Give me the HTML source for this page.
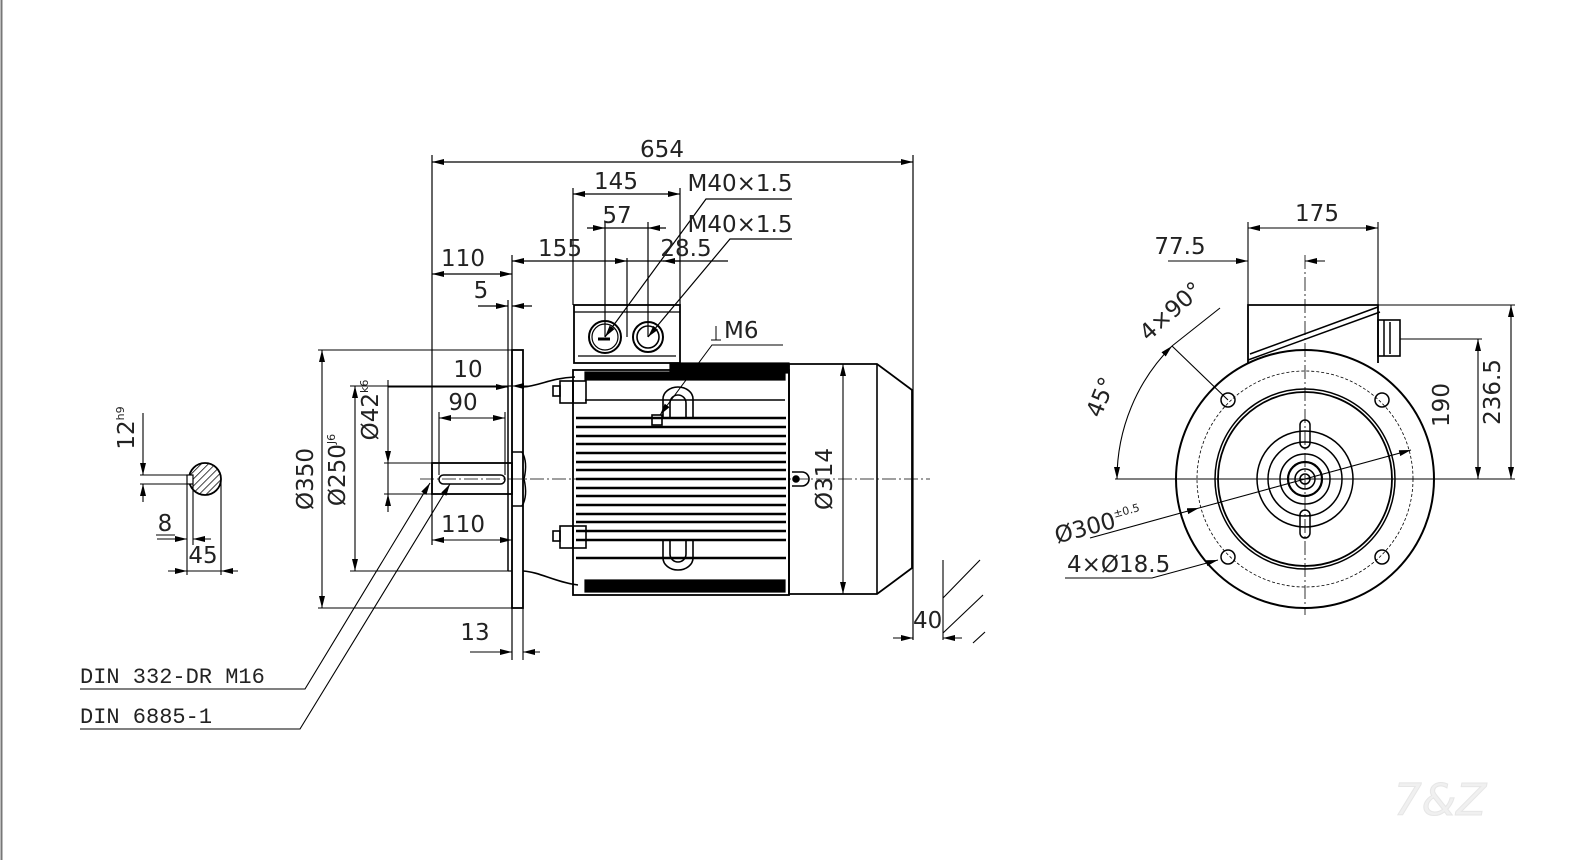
<!DOCTYPE html>
<html><head><meta charset="utf-8"><style>
html,body{margin:0;padding:0;background:#fff;}
svg{display:block;}
text{font-family:"DejaVu Sans","Liberation Sans",sans-serif;fill:#222;}
</style></head><body>
<svg width="1596" height="860" viewBox="0 0 1596 860" xmlns="http://www.w3.org/2000/svg">
<defs>
<marker id="a" viewBox="0 0 12 6" refX="12" refY="3" markerWidth="12" markerHeight="6" orient="auto-start-reverse" markerUnits="userSpaceOnUse"><path d="M0,0 L12,3 L0,6 z" fill="#000"/></marker>
<pattern id="h" width="5" height="5" patternUnits="userSpaceOnUse" patternTransform="rotate(45)"><line x1="0" y1="0" x2="0" y2="5" stroke="#000" stroke-width="1.5"/></pattern>
</defs>
<line x1="1.5" y1="0" x2="1.5" y2="860" stroke="#777" stroke-width="2"/>
<g stroke="#000" fill="none" stroke-width="1.2">
<line x1="420" y1="479" x2="930" y2="479" stroke-dasharray="14,3,2,3" stroke-width="0.8"/>
<line x1="432" y1="162" x2="913" y2="162" marker-start="url(#a)" marker-end="url(#a)"/>
<line x1="432" y1="155" x2="432" y2="545"/>
<line x1="913" y1="155" x2="913" y2="640"/>
<line x1="573" y1="194" x2="680" y2="194" marker-start="url(#a)" marker-end="url(#a)"/>
<line x1="573" y1="188" x2="573" y2="305"/><line x1="680" y1="188" x2="680" y2="305"/>
<line x1="587" y1="228" x2="605" y2="228" marker-end="url(#a)"/>
<line x1="666" y1="228" x2="648" y2="228" marker-end="url(#a)"/>
<line x1="605" y1="228" x2="648" y2="228"/>
<line x1="605" y1="222" x2="605" y2="337"/><line x1="648" y1="222" x2="648" y2="337"/>
<line x1="512" y1="261" x2="627" y2="261" marker-start="url(#a)" marker-end="url(#a)"/>
<line x1="627" y1="258" x2="627" y2="337"/>
<line x1="627" y1="261" x2="728" y2="261"/>
<line x1="680" y1="261" x2="663" y2="261" marker-end="url(#a)"/>
<line x1="432" y1="274" x2="512" y2="274" marker-start="url(#a)" marker-end="url(#a)"/>
<line x1="512" y1="255" x2="512" y2="660"/>
<line x1="478" y1="306" x2="508" y2="306" marker-end="url(#a)"/>
<line x1="532" y1="306" x2="512" y2="306" marker-end="url(#a)"/>
<line x1="508" y1="300" x2="508" y2="386"/>
<polyline points="792,199 706,199 605,337" marker-end="url(#a)"/>
<polyline points="792,239 730,239 648,337" marker-end="url(#a)"/>
<rect x="512" y="350" width="11" height="258" stroke-width="1.8"/>
<line x1="508" y1="386" x2="508" y2="571" stroke-width="1.5"/>
<line x1="508" y1="386" x2="512" y2="386"/><line x1="508" y1="571" x2="512" y2="571"/>
<path d="M512,452 h10 q6,10 2,27 q4,17 -2,27 h-10" stroke-width="1.5"/>
<rect x="432" y="463" width="80" height="31" stroke-width="1.8"/>
<rect x="439" y="475" width="66" height="9" rx="4.5" stroke-width="1.5"/>
<path d="M523,387 C540,386 550,378 575,377" stroke-width="1.6"/>
<path d="M523,571 C540,572 555,582 578,585" stroke-width="1.6"/>
<rect x="560" y="381" width="13" height="22" stroke-width="1.6"/><rect x="573" y="381" width="13" height="22" stroke-width="1.6"/><rect x="553" y="386" width="7" height="10" stroke-width="1.6"/>
<rect x="560" y="526" width="13" height="22" stroke-width="1.6"/><rect x="573" y="526" width="13" height="22" stroke-width="1.6"/><rect x="553" y="531" width="7" height="10" stroke-width="1.6"/>
<rect x="574" y="305" width="106" height="58" stroke-width="1.8"/>
<line x1="574" y1="312" x2="680" y2="312"/><line x1="578" y1="356" x2="676" y2="356"/>
<circle cx="605" cy="337" r="16" stroke-width="2"/><circle cx="605" cy="337" r="13"/>
<line x1="598" y1="339" x2="610" y2="339" stroke-width="3"/>
<circle cx="648" cy="337" r="15" stroke-width="2"/><circle cx="648" cy="337" r="11" stroke-width="1.6"/>
<rect x="573" y="370" width="216" height="225" stroke-width="1.8"/>
<rect x="670" y="363" width="119" height="10" fill="#000"/>
<rect x="585" y="372" width="200" height="8" fill="#000"/>
<rect x="585" y="580" width="200" height="12" fill="#000"/>
<line x1="585" y1="400" x2="785" y2="400" stroke-width="1.6"/>
</g>
<g stroke="#000" stroke-width="2.6">
<line x1="576" y1="418" x2="786" y2="418"/><line x1="576" y1="427" x2="786" y2="427"/><line x1="576" y1="436" x2="786" y2="436"/><line x1="576" y1="444" x2="786" y2="444"/><line x1="576" y1="453" x2="786" y2="453"/><line x1="576" y1="462" x2="786" y2="462"/><line x1="576" y1="470" x2="786" y2="470"/><line x1="576" y1="479" x2="786" y2="479"/><line x1="576" y1="488" x2="786" y2="488"/><line x1="576" y1="496" x2="786" y2="496"/><line x1="576" y1="505" x2="786" y2="505"/><line x1="576" y1="514" x2="786" y2="514"/><line x1="576" y1="522" x2="786" y2="522"/><line x1="576" y1="531" x2="786" y2="531"/><line x1="576" y1="540" x2="786" y2="540"/><line x1="576" y1="558" x2="786" y2="558"/>
</g>
<g stroke="#000" fill="none" stroke-width="1.6">
<path d="M663,417 v-18 a15,12 0 0 1 30,0 v18"/><path d="M670,417 v-14 a8,8 0 0 1 16,0 v14"/>
<rect x="652" y="415" width="10" height="10"/>
<path d="M663,540 v18 a15,12 0 0 0 30,0 v-18"/><path d="M670,540 v14 a8,8 0 0 0 16,0 v-14"/>
<path d="M792,472 h10 a7,7 0 0 1 0,14 h-10"/><circle cx="796" cy="479" r="3" fill="#000"/>
<path d="M789,364 H877 L912,390 V568 L877,594 H789 Z" stroke-width="1.8"/>
<line x1="877" y1="364" x2="877" y2="594"/>
<polyline points="783,345 712,345 660,415" stroke-width="1" marker-end="url(#a)"/>
<line x1="711" y1="340" x2="721" y2="340" stroke-width="1"/><line x1="716" y1="326" x2="716" y2="340" stroke-width="1"/>
</g>
<g stroke="#000" fill="none" stroke-width="1.1">
<line x1="843" y1="364" x2="843" y2="594" marker-start="url(#a)" marker-end="url(#a)"/>
<line x1="318" y1="350" x2="512" y2="350"/><line x1="318" y1="608" x2="512" y2="608"/>
<line x1="322" y1="350" x2="322" y2="608" marker-start="url(#a)" marker-end="url(#a)"/>
<line x1="350" y1="386" x2="508" y2="386"/><line x1="350" y1="571" x2="508" y2="571"/>
<line x1="355" y1="386" x2="355" y2="571" marker-start="url(#a)" marker-end="url(#a)"/>
<line x1="384" y1="463" x2="432" y2="463"/><line x1="384" y1="494" x2="432" y2="494"/>
<line x1="388" y1="380" x2="388" y2="463" marker-end="url(#a)"/>
<line x1="388" y1="512" x2="388" y2="494" marker-end="url(#a)"/>
<line x1="388" y1="463" x2="388" y2="494"/>
<line x1="388" y1="387" x2="508" y2="387" marker-end="url(#a)"/>
<line x1="530" y1="386" x2="512" y2="386" marker-end="url(#a)"/>
<line x1="439" y1="418" x2="505" y2="418" marker-start="url(#a)" marker-end="url(#a)"/>
<line x1="439" y1="412" x2="439" y2="475"/><line x1="505" y1="412" x2="505" y2="475"/>
<line x1="432" y1="540" x2="512" y2="540" marker-start="url(#a)" marker-end="url(#a)"/>
<line x1="470" y1="652" x2="512" y2="652" marker-end="url(#a)"/>
<line x1="540" y1="652" x2="523" y2="652" marker-end="url(#a)"/>
<line x1="523" y1="608" x2="523" y2="660"/>
<line x1="893" y1="638" x2="913" y2="638" marker-end="url(#a)"/>
<line x1="962" y1="638" x2="943" y2="638" marker-end="url(#a)"/>
<line x1="943" y1="560" x2="943" y2="640"/>
<line x1="943" y1="598" x2="980" y2="560"/><line x1="943" y1="633" x2="983" y2="595"/><line x1="973" y1="643" x2="985" y2="632"/>
<polyline points="80,689 305,689 430,483" marker-end="url(#a)"/>
<polyline points="80,729 300,729 450,484" marker-end="url(#a)"/>
<circle cx="205" cy="479" r="16" fill="url(#h)" stroke-width="1.8"/>
<rect x="187" y="475" width="6" height="9" fill="#fff" stroke-width="1.2"/>
<line x1="140" y1="475" x2="193" y2="475"/><line x1="140" y1="484" x2="193" y2="484"/>
<line x1="143" y1="413" x2="143" y2="475" marker-end="url(#a)"/>
<line x1="143" y1="502" x2="143" y2="484" marker-end="url(#a)"/>
<line x1="187" y1="484" x2="187" y2="575"/><line x1="193" y1="484" x2="193" y2="545"/><line x1="221" y1="479" x2="221" y2="575"/>
<line x1="157" y1="539" x2="187" y2="539" marker-end="url(#a)"/>
<line x1="211" y1="539" x2="193" y2="539" marker-end="url(#a)"/>
<line x1="168" y1="571" x2="187" y2="571" marker-end="url(#a)"/>
<line x1="238" y1="571" x2="221" y2="571" marker-end="url(#a)"/>
<line x1="187" y1="571" x2="221" y2="571"/>
<line x1="156" y1="535" x2="175" y2="535"/>
</g>
<g stroke="#000" fill="none" stroke-width="1.5">
<line x1="1305" y1="255" x2="1305" y2="615" stroke-dasharray="14,3,2,3" stroke-width="0.8"/>
<line x1="1115" y1="479" x2="1515" y2="479" stroke-width="1.1"/>
<circle cx="1305" cy="479" r="129" stroke-width="2"/>
<circle cx="1305" cy="479" r="108" stroke-dasharray="3,2" stroke-width="0.8"/>
<circle cx="1305" cy="479" r="90"/><circle cx="1305" cy="479" r="87" stroke-width="1.8"/>
<circle cx="1305" cy="479" r="48"/><circle cx="1305" cy="479" r="37"/><circle cx="1305" cy="479" r="25"/><circle cx="1305" cy="479" r="17" stroke-width="2.2"/><circle cx="1305" cy="479" r="10"/><circle cx="1305" cy="479" r="5"/>
<rect x="1300" y="420" width="10" height="28" rx="5"/><rect x="1300" y="510" width="10" height="28" rx="5"/>
<circle cx="1228" cy="400" r="7"/><circle cx="1382" cy="400" r="7"/><circle cx="1228" cy="557" r="7"/><circle cx="1382" cy="557" r="7"/>
<path d="M1248,363 V305 H1378 V363" stroke-width="1.8"/>
<path d="M1248,360 L1380,312 M1250,354 L1378,307"/>
<rect x="1378" y="320" width="22" height="36" stroke-width="1.6"/>
<line x1="1384" y1="320" x2="1384" y2="356"/><line x1="1390" y1="322" x2="1390" y2="354"/>
</g>
<g stroke="#000" fill="none" stroke-width="1.1">
<line x1="1248" y1="222" x2="1248" y2="305"/><line x1="1378" y1="222" x2="1378" y2="305"/>
<line x1="1248" y1="228" x2="1378" y2="228" marker-start="url(#a)" marker-end="url(#a)"/>
<line x1="1168" y1="261" x2="1248" y2="261" marker-end="url(#a)"/>
<line x1="1325" y1="261" x2="1305" y2="261" marker-end="url(#a)"/>
<line x1="1378" y1="305" x2="1515" y2="305"/><line x1="1400" y1="339" x2="1482" y2="339"/>
<line x1="1478" y1="339" x2="1478" y2="479" marker-start="url(#a)" marker-end="url(#a)"/>
<line x1="1511" y1="305" x2="1511" y2="479" marker-start="url(#a)" marker-end="url(#a)"/>
<path d="M1117,479 A188,188 0 0 1 1172,346" marker-start="url(#a)" marker-end="url(#a)"/>
<line x1="1228" y1="400" x2="1172" y2="346"/><line x1="1172" y1="346" x2="1220" y2="308"/>
<line x1="1090" y1="538" x2="1199" y2="508" marker-end="url(#a)"/>
<line x1="1199" y1="508" x2="1411" y2="450" marker-end="url(#a)"/>
<polyline points="1065,578 1152,578 1218,560" marker-end="url(#a)"/>
</g>
<g font-size="23">
<text x="662" y="157" text-anchor="middle">654</text>
<text x="616" y="189" text-anchor="middle">145</text>
<text x="617" y="223" text-anchor="middle">57</text>
<text x="560" y="256" text-anchor="middle">155</text>
<text x="686" y="256" text-anchor="middle">28.5</text>
<text x="463" y="266" text-anchor="middle">110</text>
<text x="481" y="298" text-anchor="middle">5</text>
<text x="740" y="191" text-anchor="middle">M40×1.5</text>
<text x="740" y="232" text-anchor="middle">M40×1.5</text>
<text x="724" y="338">M6</text>
<text x="468" y="377" text-anchor="middle">10</text>
<text x="463" y="410" text-anchor="middle">90</text>
<text x="463" y="532" text-anchor="middle">110</text>
<text x="475" y="640" text-anchor="middle">13</text>
<text x="913" y="628">40</text>
<text x="165" y="531" text-anchor="middle">8</text>
<text x="203" y="563" text-anchor="middle">45</text>
<text x="1317" y="221" text-anchor="middle">175</text>
<text x="1180" y="254" text-anchor="middle">77.5</text>
<text transform="translate(313,479) rotate(-90)" text-anchor="middle">Ø350</text>
<text transform="translate(345,470) rotate(-90)" text-anchor="middle">Ø250<tspan font-size="11" dy="-10">J6</tspan></text>
<text transform="translate(378,410) rotate(-90)" text-anchor="middle">Ø42<tspan font-size="11" dy="-10">k6</tspan></text>
<text transform="translate(134,428) rotate(-90)" text-anchor="middle">12<tspan font-size="11" dy="-10">h9</tspan></text>
<text transform="translate(832,479) rotate(-90)" text-anchor="middle">Ø314</text>
<text transform="translate(1449,405) rotate(-90)" text-anchor="middle">190</text>
<text transform="translate(1500,392) rotate(-90)" text-anchor="middle">236.5</text>
<text transform="translate(1108,400) rotate(-68)" text-anchor="middle">45°</text>
<text transform="translate(1176,317) rotate(-42)" text-anchor="middle">4×90°</text>
<text transform="translate(1100,532) rotate(-15)" text-anchor="middle">Ø300<tspan font-size="11" dy="-10">±0.5</tspan></text>
<text x="1067" y="572">4×Ø18.5</text>
</g>
<g font-size="22">
<text x="80" y="683" style="font-family:'Liberation Mono',monospace">DIN 332-DR M16</text>
<text x="80" y="723" style="font-family:'Liberation Mono',monospace">DIN 6885-1</text>
</g>
<text x="1440" y="815" text-anchor="middle" font-size="44" font-style="italic" style="fill:#f0f0f0" stroke="#e6e6e6" stroke-width="1">7&amp;Z</text>
</svg>
</body></html>
